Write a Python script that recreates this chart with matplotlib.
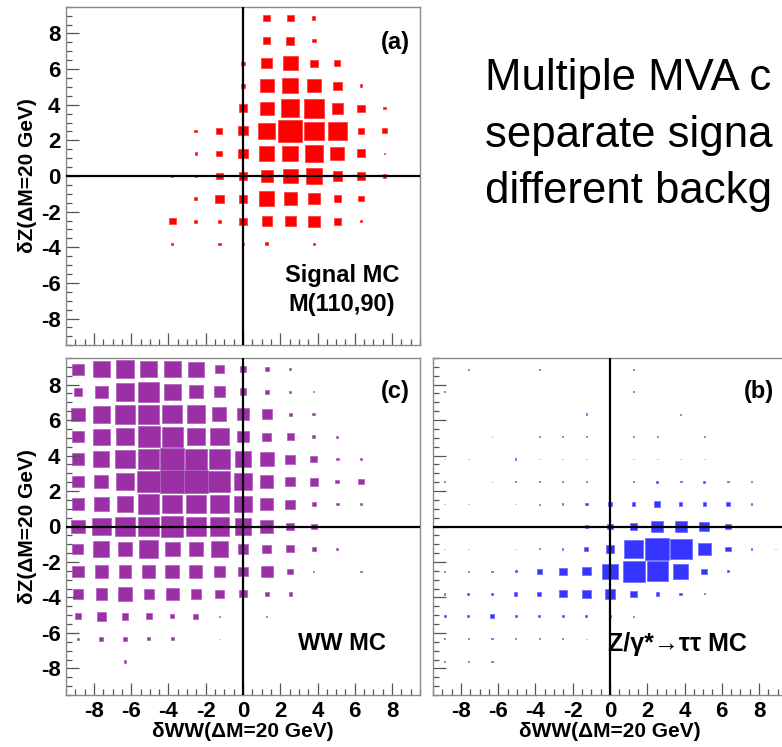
import numpy as np
import matplotlib
matplotlib.use("Agg")
import matplotlib.pyplot as plt
from matplotlib.patches import Rectangle
from matplotlib.ticker import MultipleLocator

plt.rcParams['axes.unicode_minus'] = False

# ---- data: box sizes (relative bin content) -------------------------------
# grid rows: dZ bin index +7 (top) ... -7 (bottom); columns: dWW bin index -7 ... +7
bin_index = list(range(-7, 8))
n_bins = 15
axis_lo, axis_hi = -9.5, 9.5
major_ticks = [-8, -6, -4, -2, 0, 2, 4, 6, 8]
box_max = 70.0

signal_mc = [
    [0, 0, 0, 0, 0, 0, 0, 0, 20, 20, 10, 0, 0, 0, 0],
    [0, 0, 0, 0, 0, 0, 0, 0, 20, 25, 12, 0, 0, 0, 0],
    [0, 0, 0, 0, 0, 0, 0, 10, 33, 45, 22, 18, 0, 0, 0],
    [0, 0, 0, 0, 0, 0, 0, 12, 42, 48, 42, 25, 8, 0, 0],
    [0, 0, 0, 0, 0, 0, 0, 25, 42, 55, 60, 35, 22, 7, 0],
    [0, 0, 0, 0, 0, 8, 18, 28, 50, 70, 58, 55, 20, 15, 0],
    [0, 0, 0, 0, 0, 7, 18, 30, 45, 48, 55, 42, 25, 5, 0],
    [0, 0, 0, 0, 5, 7, 20, 25, 35, 45, 48, 28, 22, 10, 0],
    [0, 0, 0, 0, 0, 8, 25, 25, 45, 38, 35, 22, 18, 0, 0],
    [0, 0, 0, 0, 20, 10, 10, 22, 30, 32, 35, 22, 6, 0, 0],
    [0, 0, 0, 0, 7, 0, 7, 5, 10, 0, 7, 0, 0, 0, 0],
    [0] * 15,
    [0] * 15,
    [0] * 15,
    [0] * 15,
]

ww_mc = [
    [35, 50, 55, 50, 50, 48, 25, 18, 12, 5, 0, 0, 0, 0, 0],
    [25, 38, 55, 62, 50, 40, 35, 20, 12, 5, 2, 0, 0, 0, 0],
    [40, 52, 60, 60, 58, 55, 42, 38, 30, 10, 8, 0, 0, 0, 0],
    [35, 50, 52, 65, 62, 52, 55, 35, 25, 20, 10, 6, 0, 0, 0],
    [35, 48, 58, 62, 70, 65, 62, 50, 42, 28, 20, 8, 4, 0, 0],
    [35, 42, 55, 68, 70, 70, 65, 55, 38, 28, 25, 12, 15, 0, 0],
    [35, 45, 50, 62, 58, 58, 58, 52, 40, 28, 12, 8, 5, 0, 0],
    [40, 55, 58, 60, 65, 60, 58, 50, 40, 22, 18, 3, 0, 0, 0],
    [32, 48, 42, 55, 45, 42, 50, 32, 25, 22, 12, 6, 0, 0, 0],
    [35, 40, 38, 38, 42, 38, 35, 30, 35, 18, 3, 0, 3, 0, 0],
    [30, 35, 42, 30, 38, 30, 25, 22, 12, 10, 0, 0, 0, 0, 0],
    [18, 28, 20, 18, 12, 15, 4, 0, 3, 0, 0, 0, 0, 0, 0],
    [6, 12, 12, 10, 10, 0, 2, 0, 0, 0, 0, 0, 0, 0, 0],
    [0, 0, 8, 0, 0, 0, 0, 0, 0, 0, 0, 0, 0, 0, 0],
    [0] * 15,
]

ztautau_mc = [
    [0, 2, 0, 0, 2, 0, 0, 0, 2, 0, 0, 0, 0, 0, 0],
    [2, 0, 0, 0, 0, 0, 0, 0, 3, 0, 0, 0, 0, 0, 0],
    [0, 0, 0, 0, 0, 0, 5, 0, 0, 0, 4, 0, 0, 0, 0],
    [0, 0, 2, 0, 2, 3, 2, 0, 2, 2, 0, 4, 0, 0, 0],
    [2, 2, 0, 5, 2, 2, 2, 0, 2, 2, 2, 2, 2, 0, 0],
    [2, 0, 2, 4, 4, 2, 2, 0, 4, 6, 5, 6, 3, 2, 0],
    [2, 2, 0, 2, 3, 4, 8, 10, 10, 18, 10, 10, 12, 5, 0],
    [0, 0, 0, 0, 0, 3, 8, 18, 22, 35, 35, 30, 18, 3, 0],
    [2, 2, 2, 2, 3, 4, 12, 25, 55, 70, 65, 40, 15, 5, 2],
    [2, 2, 3, 6, 15, 22, 25, 48, 65, 62, 45, 18, 6, 0, 0],
    [4, 6, 8, 10, 12, 22, 25, 30, 20, 10, 8, 3, 0, 0, 0],
    [6, 6, 12, 6, 7, 7, 6, 6, 3, 0, 0, 0, 0, 0, 0],
    [3, 3, 4, 4, 3, 3, 2, 0, 0, 0, 0, 0, 0, 0, 0],
    [2, 2, 3, 0, 0, 0, 0, 0, 0, 0, 0, 0, 0, 0, 0],
    [0] * 15,
]

slide_lines = ['Multiple MVA c', 'separate signa', 'different backg']

bin_width = (axis_hi - axis_lo) / n_bins

FONT = 'Liberation Sans'
W, H = 782, 747
fig = plt.figure(figsize=(W / 100, H / 100), dpi=100)


def px_axes(left, top, right, bottom):
    return fig.add_axes([left / W, 1 - bottom / H, (right - left) / W, (bottom - top) / H])


def draw_panel(ax, grid, face, edge):
    for i, row in enumerate(grid):
        yk = bin_index[::-1][i]
        for j, v in enumerate(row):
            if v <= 0:
                continue
            xk = bin_index[j]
            s = bin_width * v / box_max
            ax.add_patch(Rectangle((xk * bin_width - s / 2, yk * bin_width - s / 2), s, s,
                                   facecolor=face, edgecolor=edge, lw=0.6))
    ax.set_xlim(axis_lo, axis_hi)
    ax.set_ylim(axis_lo, axis_hi)
    ax.axhline(0, color='black', lw=1.6, zorder=5)
    ax.axvline(0, color='black', lw=1.6, zorder=5)
    for a in (ax.xaxis, ax.yaxis):
        a.set_major_locator(MultipleLocator(2))
        a.set_minor_locator(MultipleLocator(0.5))
    ax.set_xticks(major_ticks)
    ax.set_yticks(major_ticks)
    ax.tick_params(which='both', direction='in', top=False, right=False,
                   color='#555555', width=0.9)
    ax.tick_params(which='major', length=9, labelsize=16, pad=4)
    ax.tick_params(which='minor', length=4.5)
    for lab in ax.get_xticklabels() + ax.get_yticklabels():
        lab.set_fontfamily(FONT)
        lab.set_fontweight('bold')
    for sp in ax.spines.values():
        sp.set_color('#8a8a8a')
        sp.set_linewidth(1.0)


ax_a = px_axes(66, 6.7, 420, 345.3)
ax_c = px_axes(66, 358, 420, 695)
ax_b = px_axes(433, 358, 787, 695)

draw_panel(ax_a, signal_mc, '#ff0000', '#ff4040')
draw_panel(ax_c, ww_mc, '#9a2fa6', '#b468be')
draw_panel(ax_b, ztautau_mc, '#3535ff', '#7070ff')

ax_a.tick_params(labelbottom=False)
ax_b.tick_params(labelleft=False)

lab_kw = dict(fontfamily=FONT, fontweight='bold', fontsize=15)
ax_a.set_ylabel('δZ(ΔM=20 GeV)', labelpad=3, **lab_kw)
ax_c.set_ylabel('δZ(ΔM=20 GeV)', labelpad=3, **lab_kw)
ax_c.set_xlabel('δWW(ΔM=20 GeV)', labelpad=0, **lab_kw)
ax_b.set_xlabel('δWW(ΔM=20 GeV)', labelpad=0, **lab_kw)

ann = dict(fontfamily=FONT, fontweight='bold', fontsize=17)
ax_a.text(8.2, 7.5, '(a)', ha='center', va='center', **ann)
ax_c.text(8.2, 7.6, '(c)', ha='center', va='center', **ann)
ax_b.text(8.0, 7.6, '(b)', ha='center', va='center', **ann)
ax_a.text(5.3, -5.6, 'Signal MC', ha='center', va='center', **ann)
ax_a.text(5.3, -7.2, 'M(110,90)', ha='center', va='center', **ann)
ax_c.text(5.3, -6.6, 'WW MC', ha='center', va='center', **ann)
ax_b.text(3.6, -6.6, 'Z/γ*→ττ MC', ha='center', va='center',
          fontfamily=FONT, fontweight='bold', fontsize=18)

body = dict(fontfamily='Liberation Sans', fontsize=31.5, color='black', ha='left', va='baseline')
fig.text(485 / W, 1 - 90 / H, slide_lines[0], **body)
fig.text(485 / W, 1 - 147 / H, slide_lines[1], **body)
fig.text(485 / W, 1 - 203 / H, slide_lines[2], **body)

fig.savefig('out.png', dpi=100)
